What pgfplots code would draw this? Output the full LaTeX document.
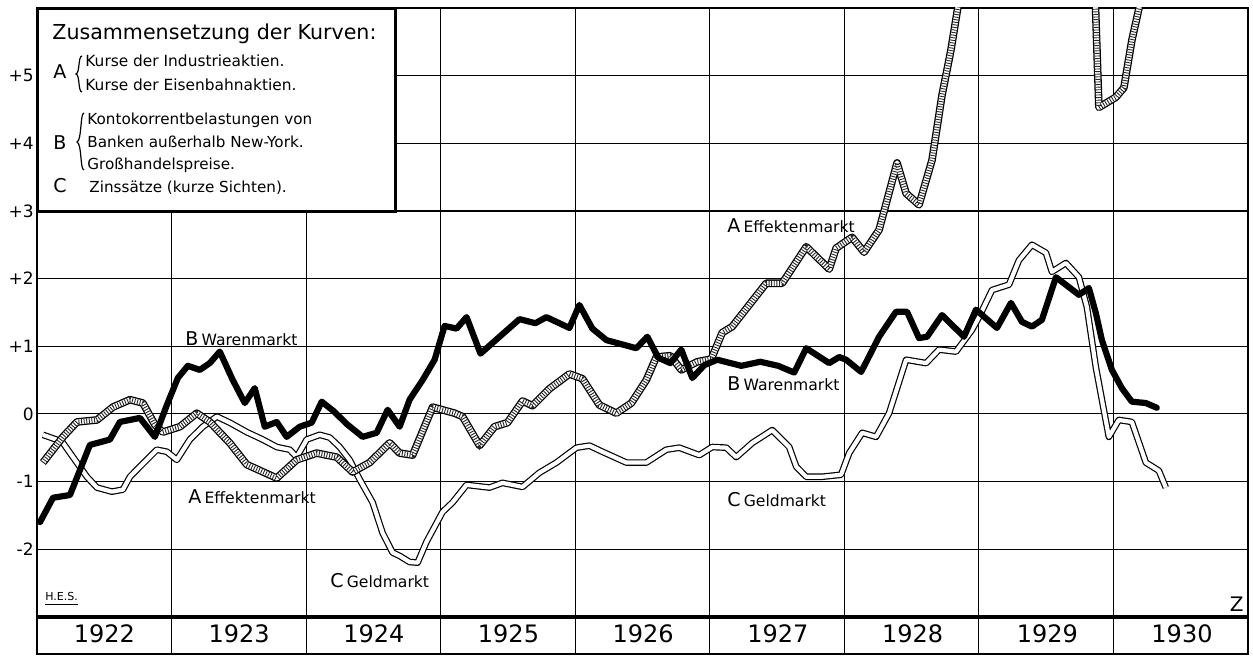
\documentclass[border=0pt]{standalone}
\usepackage{pgfplots}
\usepackage{pgfplotstable}
\pgfplotsset{compat=1.18}
\usepackage{fontspec}
\setmainfont{DejaVu Sans}

\pgfplotstableread{
m v
0.27 -1.60
1.43 -1.24
2.94 -1.20
3.83 -0.83
4.72 -0.46
6.50 -0.38
7.39 -0.12
9.18 -0.06
10.51 -0.34
11.58 0.13
12.56 0.53
13.45 0.71
14.52 0.65
15.41 0.75
16.30 0.92
17.46 0.50
18.53 0.16
19.42 0.38
20.31 -0.19
21.38 -0.12
22.27 -0.34
23.43 -0.19
24.50 -0.13
25.39 0.18
26.46 0.04
27.62 -0.15
29.04 -0.34
30.29 -0.28
31.27 0.06
32.34 -0.19
33.23 0.21
34.39 0.50
35.46 0.80
36.35 1.30
37.42 1.26
38.31 1.43
39.55 0.89
41.25 1.14
43.03 1.40
44.45 1.34
45.43 1.43
47.48 1.27
48.37 1.61
49.53 1.26
50.78 1.09
52.12 1.03
53.45 0.97
54.43 1.14
55.41 0.83
56.48 0.75
57.46 0.95
58.44 0.53
59.51 0.72
60.67 0.80
62.81 0.71
64.50 0.77
66.10 0.71
67.53 0.61
68.60 0.97
70.65 0.75
71.54 0.84
72.16 0.80
73.50 0.62
75.10 1.14
76.61 1.51
77.59 1.51
78.66 1.12
79.38 1.14
80.71 1.46
82.67 1.14
83.74 1.54
85.61 1.27
86.86 1.64
87.84 1.36
88.73 1.29
89.62 1.39
90.87 2.02
92.92 1.76
93.81 1.86
94.43 1.49
94.97 1.09
95.86 0.65
96.75 0.38
97.64 0.18
98.89 0.16
99.87 0.09
}\Bdata

\pgfplotstableread{
m v
0.53 -0.72
2.32 -0.34
3.56 -0.12
5.35 -0.09
6.77 0.10
8.29 0.21
9.44 0.16
10.51 -0.16
11.22 -0.27
12.74 -0.19
14.25 0.01
15.41 -0.12
17.19 -0.43
18.71 -0.75
21.38 -0.95
23.16 -0.68
24.94 -0.58
26.73 -0.64
28.15 -0.86
29.67 -0.72
31.45 -0.43
32.34 -0.58
33.50 -0.61
35.28 0.10
37.24 0.01
37.95 -0.04
39.47 -0.47
40.80 -0.19
41.96 -0.13
43.30 0.19
44.19 0.12
45.70 0.37
47.48 0.59
48.64 0.52
50.16 0.13
51.67 0.01
53.01 0.16
54.34 0.50
55.23 0.84
56.48 0.86
57.46 0.65
58.89 0.77
60.13 0.81
61.11 1.20
62.00 1.29
65.03 1.93
66.46 1.93
68.60 2.47
70.65 2.14
71.27 2.45
72.69 2.61
73.76 2.39
75.10 2.72
76.70 3.71
77.51 3.26
78.66 3.09
79.82 3.75
80.71 4.71
81.51 5.38
82.23 6.12
84.00 7.50
92.00 7.60
94.10 7.50
94.70 4.53
96.21 4.68
96.93 4.82
97.64 5.52
98.44 6.12
99.50 7.50
}\Adata

\pgfplotstableread{
m v
0.53 -0.31
2.23 -0.41
3.21 -0.64
4.45 -0.93
5.35 -1.09
6.68 -1.15
7.66 -1.12
8.29 -0.93
9.18 -0.78
10.69 -0.53
11.58 -0.56
12.47 -0.68
13.63 -0.38
14.79 -0.19
16.04 -0.04
17.19 -0.13
18.71 -0.27
20.13 -0.38
21.38 -0.49
22.54 -0.53
23.16 -0.64
24.05 -0.38
25.21 -0.31
26.10 -0.35
26.99 -0.49
27.88 -0.68
28.78 -0.97
29.93 -1.31
30.82 -1.76
31.71 -2.05
32.34 -2.10
33.23 -2.19
33.94 -2.20
34.74 -1.89
36.17 -1.45
37.06 -1.31
38.31 -1.05
40.36 -1.09
41.51 -1.02
43.30 -1.08
44.81 -0.87
46.33 -0.72
48.11 -0.50
49.27 -0.47
50.42 -0.56
52.56 -0.72
54.34 -0.72
56.12 -0.53
57.28 -0.50
59.06 -0.61
60.22 -0.49
61.47 -0.50
62.36 -0.64
63.79 -0.43
65.57 -0.24
67.08 -0.49
67.71 -0.78
68.60 -0.93
70.02 -0.93
71.71 -0.90
72.43 -0.58
73.59 -0.28
74.83 -0.34
75.99 0.01
77.51 0.80
79.29 0.75
80.45 0.95
81.96 0.92
83.38 1.24
84.01 1.43
85.17 1.83
86.68 1.91
87.57 2.27
88.73 2.50
89.98 2.38
90.51 2.10
91.76 2.23
92.92 2.02
93.63 1.58
94.43 0.69
95.59 -0.34
96.48 -0.09
97.64 -0.12
98.89 -0.72
100.05 -0.84
100.67 -1.09
}\Cdata

\begin{document}
\begin{tikzpicture}
\begin{axis}[
  scale only axis, width=605.5pt, height=323pt,
  at={(0,0)}, anchor=south west,
  xmin=0, xmax=108, ymin=-3.55, ymax=6,
  axis line style={line width=1.4pt},
  xtick={12,24,...,96}, xticklabels={},
  ytick={-3,-2,...,6}, yticklabels={,-2,-1,0,+1,+2,+3,+4,+5,},
  yticklabel style={font=\fontsize{8.5}{10}\selectfont, inner sep=1.5pt},
  major tick length=0pt,
  grid=major, major grid style={black, line width=0.6pt},
  clip=true,
]
% thick line at -3
\draw[line width=1.8pt] (axis cs:0,-3) -- (axis cs:108,-3);
% C Geldmarkt: double line
\addplot[black, line width=3.3pt, line join=round, no marks] table[x=m,y=v] {\Cdata};
\addplot[white, line width=2.1pt, line join=round, no marks] table[x=m,y=v] {\Cdata};
% A Effektenmarkt: hatched band
\addplot[black, line width=3.8pt, line join=round, no marks] table[x=m,y=v] {\Adata};
\addplot[white, line width=2.5pt, line join=round, no marks] table[x=m,y=v] {\Adata};
\addplot[black!85, line width=2.5pt, dash pattern=on 0.45pt off 0.85pt, no marks] table[x=m,y=v] {\Adata};
% B Warenmarkt: thick black
\addplot[black, line width=3.1pt, line join=round, line cap=round, no marks] table[x=m,y=v] {\Bdata};
\end{axis}
\begin{scope}[shift={(-18.5pt,327pt)}, x=0.5pt, y=-0.5pt]
  % legend box
  \draw[line width=1.5pt, fill=white] (37,9) rectangle (395,212);
  \node[anchor=base west, inner sep=0pt, font=\fontsize{10.3}{11}\selectfont] at (52,40) {Zusammensetzung der Kurven:};
  \node[anchor=base west, inner sep=0pt, font=\fontsize{9.5}{10}\selectfont] at (53,79) {A};
  \node[anchor=base west, inner sep=0pt, font=\fontsize{7.7}{8}\selectfont] at (85,67) {Kurse der Industrieaktien.};
  \node[anchor=base west, inner sep=0pt, font=\fontsize{7.7}{8}\selectfont] at (85,91) {Kurse der Eisenbahnaktien.};
  \draw[line width=0.6pt] (82,56) .. controls (78,56) and (80,73) .. (76,74) .. controls (80,75) and (78,92) .. (82,92);
  \node[anchor=base west, inner sep=0pt, font=\fontsize{9.5}{10}\selectfont] at (53,150) {B};
  \node[anchor=base west, inner sep=0pt, font=\fontsize{7.6}{8}\selectfont] at (87,125) {Kontokorrentbelastungen von};
  \node[anchor=base west, inner sep=0pt, font=\fontsize{7.6}{8}\selectfont] at (87,148) {Banken außerhalb New-York.};
  \node[anchor=base west, inner sep=0pt, font=\fontsize{7.6}{8}\selectfont] at (87,170) {Großhandelspreise.};
  \draw[line width=0.6pt] (84,113) .. controls (80,113) and (82,140) .. (77,142) .. controls (82,144) and (80,170) .. (84,170);
  \node[anchor=base west, inner sep=0pt, font=\fontsize{9.5}{10}\selectfont] at (53,193) {C};
  \node[anchor=base west, inner sep=0pt, font=\fontsize{7.6}{8}\selectfont] at (89,193) {Zinssätze (kurze Sichten).};
  % curve labels
  \node[anchor=base west, inner sep=0pt] at (185,346) {\fontsize{9.5}{10}\selectfont B\,\fontsize{7.8}{8}\selectfont Warenmarkt};
  \node[anchor=base west, inner sep=0pt] at (727,391) {\fontsize{9.5}{10}\selectfont B\,\fontsize{7.8}{8}\selectfont Warenmarkt};
  \node[anchor=base west, inner sep=0pt] at (727,233) {\fontsize{9.5}{10}\selectfont A\,\fontsize{7.8}{8}\selectfont Effektenmarkt};
  \node[anchor=base west, inner sep=0pt] at (188,504) {\fontsize{9.5}{10}\selectfont A\,\fontsize{7.8}{8}\selectfont Effektenmarkt};
  \node[anchor=base west, inner sep=0pt] at (330,588) {\fontsize{9.5}{10}\selectfont C\,\fontsize{7.8}{8}\selectfont Geldmarkt};
  \node[anchor=base west, inner sep=0pt] at (727,507) {\fontsize{9.5}{10}\selectfont C\,\fontsize{7.8}{8}\selectfont Geldmarkt};
  \node[anchor=base west, inner sep=0pt, font=\fontsize{5.5}{6}\selectfont] at (45,601) {\underline{H.E.S.}};
  \node[anchor=base east, inner sep=0pt, font=\fontsize{10}{11}\selectfont] at (1244,612) {Z};
  % year labels
  \foreach \yr [count=\k from 0] in {1922,1923,1924,1925,1926,1927,1928,1929,1930} {
    \node[anchor=base, inner sep=0pt, font=\fontsize{12}{13}\selectfont] at ({104.4+134.7*\k},643) {\yr};
  }
\end{scope}
\pgfresetboundingbox
\path[shift={(-18.5pt,327pt)}, x=0.5pt, y=-0.5pt] (0,0) rectangle (1253,658);
\end{tikzpicture}
\end{document}
